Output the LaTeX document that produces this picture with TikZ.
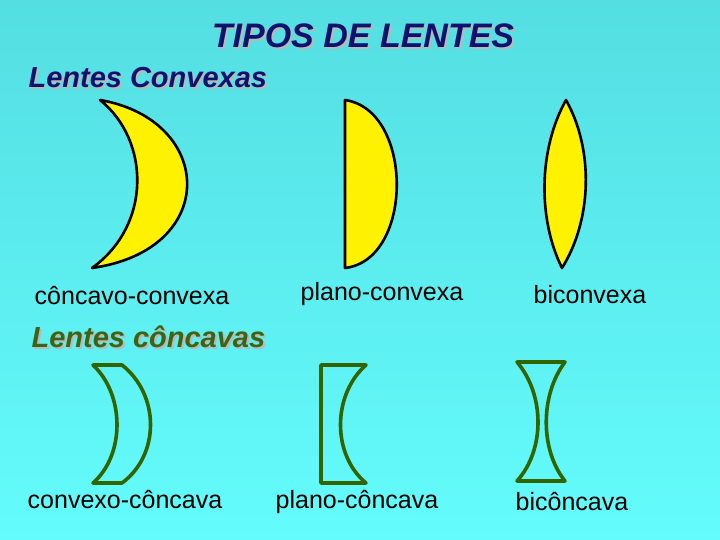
\documentclass[tikz,border=0pt]{standalone}
\usepackage{fontspec}
\setmainfont{Liberation Sans}
\begin{document}
\begin{tikzpicture}[x=1pt,y=-1pt,
  yel/.style={fill=yellow,draw=black,line width=2.6pt,line join=round},
  grn/.style={draw=lgreen,line width=3.6pt,line join=round},
  lbl/.style={font=\fontsize{25}{27}\selectfont,text=black},
  head/.style={font=\fontsize{29}{31}\selectfont\bfseries\itshape}]
\definecolor{bgtop}{RGB}{84,222,226}
\definecolor{bgbot}{RGB}{100,252,252}
\definecolor{navy}{RGB}{10,20,110}
\definecolor{lgreen}{RGB}{50,100,0}
\definecolor{olive}{RGB}{60,100,20}
\shade[top color=bgtop,bottom color=bgbot] (0,0) rectangle (720,540);
\useasboundingbox (0,0) rectangle (720,540);
% titles with shadow
\node[font=\fontsize{34}{36}\selectfont\bfseries\itshape,text=gray!55] at (365,38) {TIPOS DE LENTES};
\node[font=\fontsize{34}{36}\selectfont\bfseries\itshape,text=navy] (title) at (363,36) {TIPOS DE LENTES};
\node[head,text=gray!55,anchor=west] at (27,80) {Lentes Convexas};
\node[head,text=navy,anchor=west] (h1) at (25,78) {Lentes Convexas};
\node[head,text=gray!55,anchor=west] at (30,339) {Lentes côncavas};
\node[head,text=olive,anchor=west] (h2) at (28,337) {Lentes côncavas};
% convex lenses
\draw[yel] (100,100) .. controls (215,120) and (220,250) .. (92,268)
  .. controls (152,225) and (150,140) .. (100,100) -- cycle;
\draw[yel] (345,100) .. controls (414,110) and (414,260) .. (345,268) -- cycle;
\draw[yel] (566,100) .. controls (594,150) and (592,220) .. (562,268)
  .. controls (538,220) and (538,150) .. (566,100) -- cycle;
\node[lbl] (l1) at (132,296) {côncavo-convexa};
\node[lbl] (l2) at (382,294) {plano-convexa};
\node[lbl] (l3) at (590,295) {biconvexa};
% concave lenses
\draw[grn] (93,365) -- (122,365) .. controls (160,395) and (160,455) .. (122,483)
  -- (93,483) .. controls (125,455) and (125,395) .. (93,365) -- cycle;
\draw[grn] (321,365) -- (366,365) .. controls (332,395) and (332,455) .. (366,483)
  -- (321,483) -- cycle;
\draw[grn] (517,362) -- (565,362) .. controls (540,395) and (540,450) .. (565,481)
  -- (517,481) .. controls (545,450) and (545,395) .. (517,362) -- cycle;
\node[lbl] (l4) at (125,500) {convexo-côncava};
\node[lbl] (l5) at (357,502) {plano-côncava};
\node[lbl] (l6) at (572,502) {bicôncava};
\end{tikzpicture}
\end{document}
